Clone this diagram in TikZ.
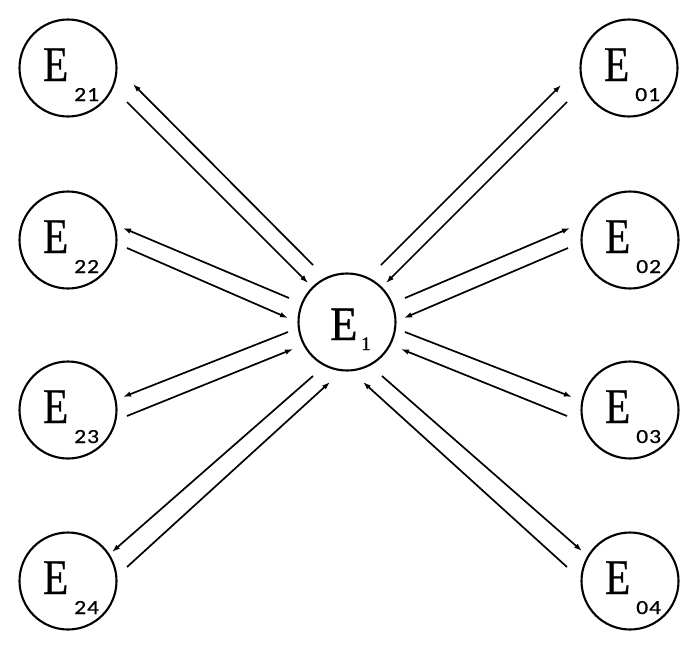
\documentclass[tikz,border=0pt]{standalone}
\usepackage{fontspec}
\usepackage{graphicx}
\setmainfont{Liberation Serif}
\newfontfamily\efont{Liberation Serif}[FakeBold=0.8]
\newfontfamily\subsans{Carlito}[Numbers=Lining,FakeBold=0.6]
\usetikzlibrary{arrows.meta,calc}
\begin{document}
\begin{tikzpicture}[x=1pt,y=-1pt,
  state/.style={draw,circle,line width=2.1pt,minimum size=97pt,inner sep=0pt},
  conn/.style={line width=1.7pt,-{Latex[length=8pt,width=5.5pt]}},
  txt/.style={inner sep=0pt,anchor=base west}]
\useasboundingbox (0,0) rectangle (698,649);
\foreach \n/\x/\y/\a/\b in {21/68/68/2/1, 22/68/240/2/2, 23/68/410/2/3, 24/68/581/2/4,
                           01/629/68/0/1, 02/630/240/0/2, 03/630/410/0/3, 04/630/581/0/4} {
  \node[state] (e\n) at (\x,\y) {};
  \node[txt] (l\n) at ($(e\n)+(-25,13)$) {\efont\fontsize{50}{50}\selectfont\scalebox{0.82}[1]{E}};
  \node[txt] (s\n) at ($(e\n)+(6,33)$) {\subsans\fontsize{20}{20}\selectfont\scalebox{1.18}[1]{\a\kern0.8pt\b}};
}
\node[state] (e1) at (347,322) {};
\node[txt] (l1) at ($(e1)+(-17,18)$) {\efont\fontsize{48}{48}\selectfont\scalebox{0.93}[1]{E}};
\node[txt] (s1) at ($(e1)+(14,28)$) {\efont\fontsize{19}{19}\selectfont 1};
% E21
\draw[conn] ($(e1)+(-34,-57)$) -- ($(e21)+(65,16)$);
\draw[conn] ($(e21)+(59,34)$) -- ($(e1)+(-39,-39)$);
% E22
\draw[conn] ($(e1)+(-58,-24)$) -- ($(e22)+(55,-12)$);
\draw[conn] ($(e22)+(59,8)$) -- ($(e1)+(-59,-4)$);
% E23
\draw[conn] ($(e1)+(-59,10)$) -- ($(e23)+(55,-13)$);
\draw[conn] ($(e23)+(59,6)$) -- ($(e1)+(-54,27)$);
% E24
\draw[conn] ($(e1)+(-34,54)$) -- ($(e24)+(44,-29)$);
\draw[conn] ($(e24)+(59,-14)$) -- ($(e1)+(-17,60)$);
% E01
\draw[conn] ($(e1)+(34,-57)$) -- ($(e01)+(-68,17)$);
\draw[conn] ($(e01)+(-62,34)$) -- ($(e1)+(39,-39)$);
% E02
\draw[conn] ($(e1)+(58,-24)$) -- ($(e02)+(-60,-12)$);
\draw[conn] ($(e02)+(-62,8)$) -- ($(e1)+(57,-4)$);
% E03
\draw[conn] ($(e1)+(58,10)$) -- ($(e03)+(-58,-13)$);
\draw[conn] ($(e03)+(-63,6)$) -- ($(e1)+(54,27)$);
% E04
\draw[conn] ($(e1)+(35,54)$) -- ($(e04)+(-48,-30)$);
\draw[conn] ($(e04)+(-63,-14)$) -- ($(e1)+(16,60)$);
\end{tikzpicture}
\end{document}
